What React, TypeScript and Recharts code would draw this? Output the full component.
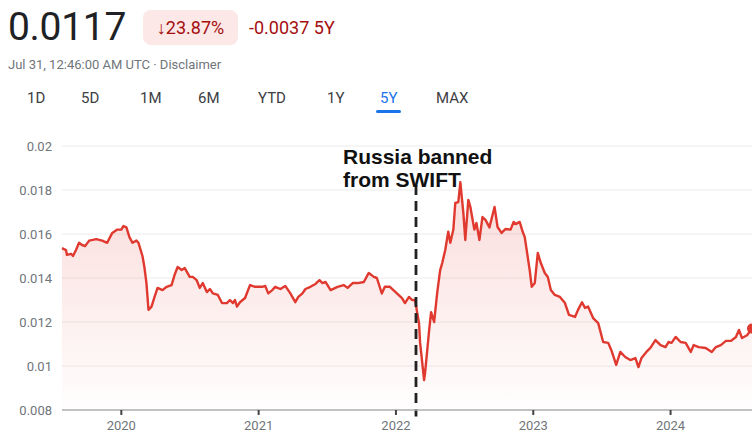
import React from "react";
import {
  AreaChart,
  Area,
  XAxis,
  YAxis,
  CartesianGrid,
  ReferenceLine,
  ReferenceDot,
} from "recharts";

// time as decimal years
const times = [
  2019.568, 2019.597, 2019.604, 2019.634, 2019.648, 2019.67, 2019.692, 2019.714,
  2019.736, 2019.766, 2019.817, 2019.861, 2019.897, 2019.934, 2019.971, 2020.0,
  2020.015, 2020.037, 2020.059, 2020.081, 2020.11, 2020.125, 2020.154, 2020.168,
  2020.183, 2020.198, 2020.22, 2020.242, 2020.264, 2020.3, 2020.33, 2020.366,
  2020.388, 2020.41, 2020.44, 2020.462, 2020.498, 2020.52, 2020.549, 2020.571,
  2020.593, 2020.623, 2020.645, 2020.667, 2020.703, 2020.733, 2020.769, 2020.791,
  2020.813, 2020.828, 2020.842, 2020.864, 2020.901, 2020.923, 2020.938, 2020.974,
  2021.026, 2021.048, 2021.07, 2021.099, 2021.121, 2021.158, 2021.194, 2021.231,
  2021.267, 2021.289, 2021.319, 2021.341, 2021.377, 2021.414, 2021.443, 2021.465,
  2021.487, 2021.524, 2021.575, 2021.619, 2021.648, 2021.685, 2021.722, 2021.766,
  2021.802, 2021.839, 2021.861, 2021.897, 2021.919, 2021.956, 2022.007, 2022.044,
  2022.066, 2022.095, 2022.117, 2022.139, 2022.168, 2022.176, 2022.205, 2022.212,
  2022.242, 2022.256, 2022.278, 2022.3, 2022.322, 2022.337, 2022.359, 2022.381,
  2022.396, 2022.418, 2022.432, 2022.454, 2022.469, 2022.491, 2022.505, 2022.527,
  2022.542, 2022.571, 2022.586, 2022.608, 2022.63, 2022.652, 2022.681, 2022.718,
  2022.74, 2022.769, 2022.799, 2022.835, 2022.857, 2022.872, 2022.901, 2022.923,
  2022.938, 2022.974, 2022.989, 2023.011, 2023.033, 2023.055, 2023.084, 2023.106,
  2023.128, 2023.157, 2023.194, 2023.231, 2023.26, 2023.304, 2023.326, 2023.355,
  2023.377, 2023.399, 2023.436, 2023.473, 2023.509, 2023.546, 2023.568, 2023.604,
  2023.634, 2023.67, 2023.707, 2023.744, 2023.766, 2023.788, 2023.824, 2023.853,
  2023.89, 2023.927, 2023.963, 2023.985, 2024.007, 2024.037, 2024.073, 2024.11,
  2024.147, 2024.168, 2024.205, 2024.256, 2024.3, 2024.33, 2024.366, 2024.403,
  2024.44, 2024.476, 2024.498, 2024.52, 2024.557, 2024.593,
];

const rates = [
  0.01536, 0.01527, 0.01505, 0.0151, 0.015, 0.01527, 0.0156, 0.0155,
  0.01545, 0.0157, 0.01577, 0.0157, 0.0156, 0.01605, 0.0162, 0.0162,
  0.01636, 0.0163, 0.01586, 0.0156, 0.0157, 0.0156, 0.015, 0.0145,
  0.01377, 0.01255, 0.0127, 0.01314, 0.01355, 0.01345, 0.0136, 0.01368,
  0.01414, 0.0145, 0.01436, 0.01445, 0.01405, 0.01405, 0.0139, 0.01355,
  0.01377, 0.01336, 0.0135, 0.0133, 0.01323, 0.01286, 0.01286, 0.013,
  0.01286, 0.013, 0.0127, 0.0129, 0.01309, 0.01345, 0.01368, 0.0136,
  0.0136, 0.01364, 0.0133, 0.01345, 0.0136, 0.0135, 0.01364, 0.0133,
  0.0129, 0.01314, 0.0133, 0.0135, 0.0136, 0.01373, 0.0139, 0.01377,
  0.01382, 0.01345, 0.0136, 0.01368, 0.01355, 0.01377, 0.01377, 0.01382,
  0.01423, 0.01405, 0.014, 0.0133, 0.0136, 0.0136, 0.0133, 0.01309,
  0.01286, 0.01314, 0.013, 0.013, 0.01195, 0.01105, 0.00936, 0.00968,
  0.01164, 0.01245, 0.012, 0.0133, 0.01436, 0.01468, 0.01527, 0.0161,
  0.0156, 0.0162, 0.01741, 0.01745, 0.01836, 0.01695, 0.01573, 0.01755,
  0.01723, 0.0162, 0.0165, 0.01573, 0.01677, 0.01664, 0.0163, 0.01723,
  0.01632, 0.01605, 0.01623, 0.0162, 0.01655, 0.01645, 0.01655, 0.0161,
  0.01586, 0.01436, 0.0136, 0.01377, 0.01514, 0.01468, 0.01423, 0.01405,
  0.01345, 0.01323, 0.01314, 0.01286, 0.01232, 0.01223, 0.01255, 0.0129,
  0.01264, 0.0127, 0.01218, 0.01195, 0.01109, 0.01105, 0.01073, 0.01005,
  0.01064, 0.01041, 0.01027, 0.01036, 0.00995, 0.01036, 0.01064, 0.01082,
  0.01118, 0.01095, 0.01086, 0.01109, 0.01105, 0.01132, 0.01109, 0.01105,
  0.01064, 0.01095, 0.01086, 0.01082, 0.01064, 0.01086, 0.01095, 0.01114,
  0.01114, 0.01132, 0.01164, 0.01127, 0.0114, 0.0117,
];

const yTicks = [0.008, 0.01, 0.012, 0.014, 0.016, 0.018, 0.02];
const yearTicks = [2020, 2021, 2022, 2023, 2024];
const ranges = ["1D", "5D", "1M", "6M", "YTD", "1Y", "5Y", "MAX"];
const swiftBan = 2022.146;

const data = times.map((t, i) => ({ t, rate: rates[i] }));
const last = data[data.length - 1];

const RED = "#e0392f";
const GREY = "#70757a";
const FONT = "Roboto, Arial, sans-serif";

export default function App() {
  return (
    <div
      style={{
        position: "absolute",
        left: 0,
        top: 0,
        width: 752,
        height: 439,
        background: "#fff",
        fontFamily: FONT,
        overflow: "hidden",
      }}
    >
      {/* header */}
      <div style={{ position: "absolute", left: 8, top: 4, fontSize: 39, color: "#202124", letterSpacing: -0.3 }}>
        0.0117
      </div>
      <div
        style={{
          position: "absolute",
          left: 143,
          top: 10,
          width: 95,
          height: 35,
          borderRadius: 8,
          background: "#fce8e6",
          color: "#a50e0e",
          fontSize: 18,
          lineHeight: "35px",
          textAlign: "center",
        }}
      >
        ↓23.87%
      </div>
      <div style={{ position: "absolute", left: 249, top: 17, fontSize: 18, color: "#a50e0e" }}>
        -0.0037 5Y
      </div>
      <div style={{ position: "absolute", left: 8, top: 57, fontSize: 13, color: GREY }}>
        Jul 31, 12:46:00 AM UTC · Disclaimer
      </div>
      {ranges.map((r, i) => {
        const lefts = [27, 81, 140, 198, 258, 327, 380, 436];
        const active = r === "5Y";
        return (
          <div
            key={r}
            style={{
              position: "absolute",
              left: lefts[i],
              top: 89,
              fontSize: 15,
              color: active ? "#1a73e8" : "#3c4043",
            }}
          >
            {r}
            {active && (
              <div
                style={{
                  position: "absolute",
                  left: -4,
                  right: -4,
                  top: 21,
                  height: 3,
                  borderRadius: 2,
                  background: "#1a73e8",
                }}
              />
            )}
          </div>
        );
      })}

      {/* chart */}
      <div style={{ position: "absolute", left: 0, top: 130 }}>
        <AreaChart
          width={752}
          height={309}
          data={data}
          margin={{ top: 16, right: 0, bottom: 0, left: 0 }}
        >
          <defs>
            <linearGradient id="fillRed" x1="0" y1="0" x2="0" y2="1">
              <stop offset="0%" stopColor={RED} stopOpacity={0.3} />
              <stop offset="100%" stopColor={RED} stopOpacity={0.01} />
            </linearGradient>
          </defs>
          <CartesianGrid vertical={false} stroke="#ececec" />
          <XAxis
            dataKey="t"
            type="number"
            domain={[times[0], times[times.length - 1]]}
            ticks={yearTicks}
            tickFormatter={(v) => String(v)}
            axisLine={{ stroke: "#b0b0b0", strokeWidth: 1.5 }}
            tickLine={{ stroke: "#444", strokeWidth: 2 }}
            tickSize={5}
            tick={{ fill: GREY, fontSize: 13, fontFamily: FONT, dy: 4 }}
            height={29}
          />
          <YAxis
            type="number"
            domain={[0.008, 0.02]}
            ticks={yTicks}
            tickFormatter={(v) => String(v)}
            axisLine={false}
            tickLine={false}
            tick={{ fill: GREY, fontSize: 13, fontFamily: FONT, dx: -2 }}
            width={62}
          />
          <Area
            type="linear"
            dataKey="rate"
            stroke={RED}
            strokeWidth={2.4}
            strokeLinejoin="round"
            fill="url(#fillRed)"
            baseValue={0.008}
            dot={false}
            activeDot={false}
            isAnimationActive={false}
          />
          <ReferenceLine
            segment={[
              { x: swiftBan, y: 0.01823 },
              { x: swiftBan, y: 0.0077 },
            ]}
            stroke="#222"
            strokeWidth={2.8}
            strokeDasharray="10 6"
            ifOverflow="visible"
          />
          <ReferenceDot
            x={last.t}
            y={last.rate}
            r={5}
            fill={RED}
            stroke="none"
            ifOverflow="visible"
          />
        </AreaChart>
      </div>

      <div
        style={{
          position: "absolute",
          left: 343,
          top: 145,
          fontFamily: "'Liberation Sans', Arial, sans-serif",
          fontWeight: 700,
          fontSize: 21,
          lineHeight: "23px",
          color: "#111",
        }}
      >
        Russia banned
        <br />
        from SWIFT
      </div>
    </div>
  );
}
